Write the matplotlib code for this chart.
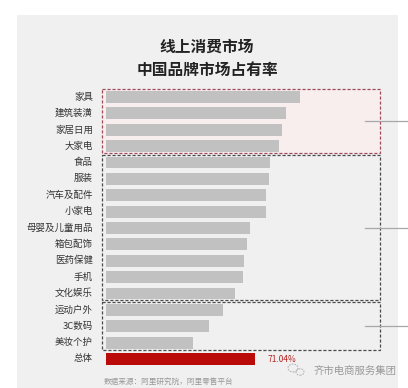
import matplotlib.pyplot as plt
from matplotlib.patches import Rectangle, Ellipse

plt.rcParams['font.family'] = ['Noto Sans CJK SC', 'DejaVu Sans']

# === DATA ===
categories = ["家具", "建筑装潢", "家居日用", "大家电", "食品", "服装", "汽车及配件", "小家电",
              "母婴及儿童用品", "箱包配饰", "医药保健", "手机", "文化娱乐",
              "运动户外", "3C数码", "美妆个护", "总体"]
share = [92.5, 85.8, 83.7, 82.6, 78.2, 77.5, 76.3, 76.2,
         68.6, 67.4, 65.9, 65.4, 61.5,
         55.6, 49.3, 41.3, 71.04]
groups = [(0, 3), (4, 12), (13, 15)]   # first / last row of each dashed box

W, H = 408, 388
fig = plt.figure(figsize=(W / 100, H / 100), dpi=100)
fig.patch.set_facecolor("white")

# grey panel
fig.patches.append(Rectangle((17 / W, 0), (398 - 17) / W, 1 - 15 / H,
                             transform=fig.transFigure, facecolor="#f0f0f0",
                             edgecolor="none", zorder=-5))

# axes: x from 106 px to 397 px, ~2.1 px per percent
px_per = 2.098
row = 16.375
y0 = 97
ax = fig.add_axes([106 / W, 0, (397 - 106) / W, 1 - 85 / H])
ax.set_zorder(1)
ax.set_xlim(0, (397 - 106) / px_per)
ax.set_ylim((388 - y0) / row, -(y0 - 85) / row)
ax.axis("off")
ax.patch.set_alpha(0)

ypos = list(range(len(categories)))
colors = ["#c2c1c2"] * (len(categories) - 1) + ["#bb0a0a"]
ax.barh(ypos, share, height=0.72, color=colors, zorder=3)

for y, name in zip(ypos, categories):
    ax.text(-6.2, y, name, ha="right", va="center", fontsize=6.8, color="#333333")

ax.text(share[-1] + 6, ypos[-1], f"{share[-1]:.2f}%", ha="left", va="center",
        fontsize=6, color="#b52020")

# dashed boxes
x_left, x_right = -2.05, 130.6
box_edges = ["#a04a5c", "#4a4a4a", "#4a4a4a"]
for i, (a, b) in enumerate(groups):
    top = a - 0.47
    bot = b + 0.42
    face = "#f8eeee" if i == 0 else "none"
    ax.add_patch(Rectangle((x_left, top), x_right - x_left, bot - top,
                           facecolor=face, edgecolor=box_edges[i], linewidth=0.9,
                           linestyle=(0, (2.5, 1.5)), zorder=1 + i * 0.1,
                           clip_on=False))
    mid = (top + bot) / 2
    ax.plot([123.4, 144], [mid, mid], color="#a8a8a8", linewidth=0.9,
            zorder=2, clip_on=False)

# titles and notes
fig.text(207 / W, 1 - 47 / H, "线上消费市场", ha="center", va="center",
         fontsize=11.3, fontweight="bold", color="#222222")
fig.text(207 / W, 1 - 70 / H, "中国品牌市场占有率", ha="center", va="center",
         fontsize=11.3, fontweight="bold", color="#222222")
fig.text(104 / W, 1 - 382 / H, "数据来源：阿里研究院，阿里零售平台", ha="left",
         va="center", fontsize=5.5, color="#999999")
fig.text(314 / W, 1 - 371 / H, "齐市电商服务集团", ha="left", va="center",
         fontsize=7.5, color="#9a9a9a")

# small chat-bubble watermark icon
for cx, cy, w, h in [(293, 368, 10, 8), (300, 372, 8, 6.5)]:
    fig.patches.append(Ellipse((cx / W, 1 - cy / H), w / W, h / H,
                               transform=fig.transFigure, facecolor="none",
                               edgecolor="#b5b5b5", linewidth=0.8,
                               linestyle=(0, (1.5, 1)), zorder=5))

fig.savefig("out.png", dpi=100)
